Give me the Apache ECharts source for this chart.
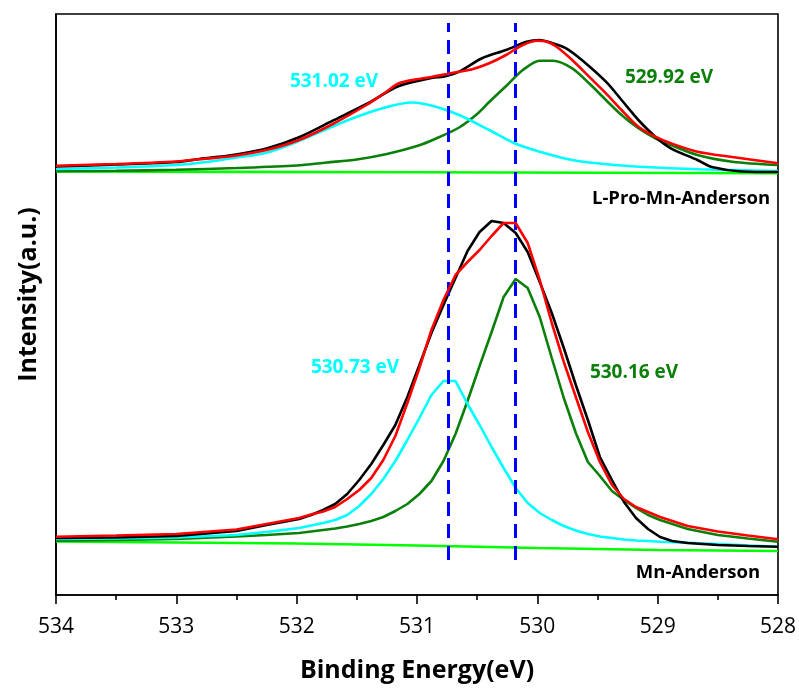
<!DOCTYPE html>
<html>
<head>
<meta charset="utf-8">
<script src="https://cdn.jsdelivr.net/npm/echarts@6/dist/echarts.min.js"></script>
<style>
html,body{margin:0;padding:0;background:#fff;}
#chart{width:799px;height:690px;}
</style>
</head>
<body>
<div id="chart"></div>
<script>
// ---------- data: [binding energy (eV), intensity (a.u.)] ----------
// Upper trace: L-Pro-Mn-Anderson
const topRaw = [[534,428.5],[533.5,430.5],[533,433],[532.81,436],[532.53,440],[532.25,446.5],[531.98,457.7],[531.7,474.3],[531.42,491],[531.15,509],[530.87,517.3],[530.78,518.3],[530.65,523.3],[530.46,536.7],[530.26,545],[530.09,553.3],[529.98,555],[529.87,551.7],[529.76,546.7],[529.63,535],[529.43,513.3],[529.3,495],[529.16,475],[529.02,458.3],[528.89,446.7],[528.67,435],[528.55,428],[528.3,423.5],[528,423]];
const topFit = [[534,429.3],[533.5,431],[533,433.5],[532.81,435.7],[532.53,439],[532.25,445],[531.98,455],[531.7,471],[531.42,490],[531.28,501],[531.15,511.7],[531,515.7],[530.87,518.3],[530.75,521],[530.65,523.3],[530.54,525.7],[530.4,531.7],[530.26,540],[530.12,550],[530,554.3],[529.92,553.3],[529.84,548.3],[529.71,535],[529.57,518.3],[529.43,501.7],[529.3,485],[529.16,468.3],[529.02,458.3],[528.89,451.7],[528.67,443.3],[528.38,438],[528,431.7]];
const topPeakHigh = [[534,426],[533.5,427.5],[533,430],[532.75,433],[532.5,437.5],[532.25,442.3],[532,453],[531.75,466],[531.5,478.2],[531.25,488],[531.04,492.5],[530.85,488.5],[530.65,480],[530.4,465],[530.19,451.7],[529.98,443.3],[529.71,435],[529.42,430.7],[529.15,428.3],[528.65,425.7],[528,424]];
const topPeakLow = [[534,423.7],[533.5,424.2],[533,425.2],[532.5,427],[532,429.5],[531.75,432.5],[531.5,435.5],[531.25,441],[531,449],[530.85,456],[530.65,467.5],[530.5,481],[530.4,493],[530.25,510],[530.12,525],[529.98,534.3],[529.87,534.3],[529.71,526.7],[529.57,511.7],[529.43,495],[529.3,480],[529.16,466.7],[529.02,456.7],[528.89,450],[528.67,440],[528.38,433.3],[528,430]];
const topBackground = [[534,423.5],[532.5,423.1],[531,422.7],[529.5,422.2],[528,421.7]];

// Lower trace: Mn-Anderson
const botRaw = [[534,57],[533.5,57.5],[533,59],[532.5,64],[532.25,70],[531.98,76],[531.88,80],[531.78,85],[531.68,91],[531.58,101],[531.48,115],[531.38,131],[531.28,150],[531.18,170],[531.08,198],[530.98,230],[530.88,262],[530.78,290],[530.68,317],[530.58,344],[530.48,363],[530.38,374],[530.28,372],[530.18,362],[530.08,343],[529.98,313],[529.88,282],[529.78,247],[529.68,210],[529.58,175],[529.48,138],[529.38,115],[529.28,93],[529.18,77],[529.08,66],[528.98,58],[528.88,54],[528.75,52],[528.5,50],[528.25,49],[528,48.3]];
const botFit = [[534,58.3],[533.5,59.5],[533,61],[532.5,65.5],[532.25,71],[531.98,77],[531.88,80.5],[531.78,83.5],[531.68,88],[531.58,96],[531.48,105],[531.38,117],[531.28,135],[531.18,159],[531.08,192],[530.98,227],[530.88,265],[530.78,295],[530.68,320],[530.58,333],[530.48,345],[530.38,359],[530.28,372],[530.18,372],[530.08,352],[529.98,315],[529.88,272],[529.78,233],[529.68,198],[529.58,163],[529.48,133],[529.38,110],[529.28,96],[529.18,88],[529.08,83],[528.98,78],[528.75,69],[528.5,63.5],[528.25,59.5],[528,55.7]];
const botPeakHigh = [[534,56],[533.5,56.5],[533,57.5],[532.5,60],[532.25,63],[531.98,67],[531.88,69.5],[531.78,72],[531.68,75],[531.58,80],[531.48,89],[531.38,101],[531.28,116],[531.18,134],[531.08,155],[530.98,177],[530.88,200],[530.78,214],[530.68,214],[530.58,191],[530.48,170],[530.38,148],[530.28,127],[530.18,107],[530.08,92],[529.98,82],[529.88,75],[529.78,69],[529.68,64.5],[529.58,61],[529.48,58.5],[529.38,57],[529.28,55.5],[529.18,54.5],[529.08,54],[528.98,53.3],[528.5,51],[528,48.3]];
const botPeakLow = [[534,54.3],[533.5,55],[533,56],[532.5,58.5],[532.25,60],[531.98,62],[531.88,63.5],[531.78,65],[531.68,66.5],[531.58,68.5],[531.48,71],[531.38,74],[531.28,78],[531.18,84],[531.08,91],[530.98,101],[530.88,114],[530.78,134],[530.68,161],[530.58,194],[530.48,229],[530.38,263],[530.28,298],[530.18,316],[530.08,307],[529.98,278],[529.88,237],[529.78,197],[529.68,162],[529.58,133],[529.48,119],[529.38,104],[529.28,95],[529.18,87],[529.08,80],[528.98,75],[528.75,66],[528.5,60],[528.25,56.5],[528,53.3]];
const botBackground = [[534,53.5],[533,52.5],[532,51.5],[531,49.5],[530,47],[529,45],[528,44]];

// Reference (dashed) positions and labels
const refLines = [530.74, 530.18];
const refSpan = [35, 572];
const peakLabels = ['531.02 eV', '529.92 eV', '530.73 eV', '530.16 eV'];
const sampleNames = ['L-Pro-Mn-Anderson', 'Mn-Anderson'];
const xTickRange = [528, 534];

// ---------- chart ----------
const FONT = '"Open Sans"';
const C = {raw:'#000000', fit:'#ff0000', high:'#00ffff', low:'#0a800a', bg:'#00ff00'};

function line(name, data, color, smooth, z) {
  return {
    name: name, type: 'line', data: data, showSymbol: false, symbol: 'none',
    smooth: smooth, z: z, animation: false,
    lineStyle: {color: color, width: 2.6},
    emphasis: {disabled: true}
  };
}

const series = [
  line('top-bg', topBackground, C.bg, false, 2),
  line('top-low', topPeakLow, C.low, 0.3, 3),
  line('top-high', topPeakHigh, C.high, 0.3, 3),
  line('top-raw', topRaw, C.raw, 0.3, 4),
  line('top-fit', topFit, C.fit, 0.3, 5),
  line('bot-bg', botBackground, C.bg, false, 2),
  line('bot-low', botPeakLow, C.low, false, 3),
  line('bot-high', botPeakHigh, C.high, false, 3),
  line('bot-raw', botRaw, C.raw, false, 4),
  line('bot-fit', botFit, C.fit, false, 5),
  {
    name: 'refs', type: 'line', data: [], z: 10, animation: false,
    markLine: {
      symbol: ['none', 'none'], silent: true, animation: false,
      label: {show: false},
      lineStyle: {color: '#0000ff', width: 3, type: [14, 8]},
      data: refLines.map(v => [{coord: [v, refSpan[0]]}, {coord: [v, refSpan[1]]}])
    }
  }
];

const txt = (color, size, text) => ({fill: color, font: 'bold ' + size + 'px ' + FONT, textAlign: 'center', textVerticalAlign: 'middle', text: text});

const chart = echarts.init(document.getElementById('chart'), null, {renderer: 'canvas'});
chart.setOption({
  backgroundColor: '#ffffff',
  animation: false,
  grid: {left: 56, right: 21, top: 14, bottom: 95, show: true, borderColor: '#000', borderWidth: 1.6, backgroundColor: 'transparent'},
  xAxis: {
    type: 'value', min: xTickRange[0], max: xTickRange[1], interval: 1, inverse: true,
    name: 'Binding Energy(eV)', nameLocation: 'middle', nameGap: 63,
    nameTextStyle: {fontFamily: 'Open Sans', fontWeight: 'bold', fontSize: 25, color: '#000'},
    axisLine: {show: true, lineStyle: {color: '#000', width: 1.6}},
    axisTick: {show: true, length: 9, lineStyle: {color: '#000', width: 1.6}},
    minorTick: {show: true, splitNumber: 2, length: 5, lineStyle: {color: '#000', width: 1.6}},
    axisLabel: {fontFamily: 'Open Sans', fontSize: 21, color: '#000', margin: 22},
    splitLine: {show: false}
  },
  yAxis: {
    type: 'value', min: 0, max: 581,
    name: 'Intensity(a.u.)', nameLocation: 'middle', nameGap: 15,
    nameTextStyle: {fontFamily: 'Open Sans', fontWeight: 'bold', fontSize: 25, color: '#000', padding: [0, 0, 0, 20]},
    axisLine: {show: true, lineStyle: {color: '#000', width: 1.6}},
    axisTick: {show: false}, axisLabel: {show: false}, splitLine: {show: false}
  },
  graphic: [
    {type: 'text', x: 334, y: 82, style: txt(C.high, 19, peakLabels[0])},
    {type: 'text', x: 669, y: 78, style: txt(C.low, 19, peakLabels[1])},
    {type: 'text', x: 355, y: 368, style: txt(C.high, 19, peakLabels[2])},
    {type: 'text', x: 634, y: 373, style: txt(C.low, 19, peakLabels[3])},
    {type: 'text', x: 681, y: 199, style: txt('#000', 18.5, sampleNames[0])},
    {type: 'text', x: 698, y: 573, style: txt('#000', 18.5, sampleNames[1])}
  ],
  series: series
});
</script>
</body>
</html>
